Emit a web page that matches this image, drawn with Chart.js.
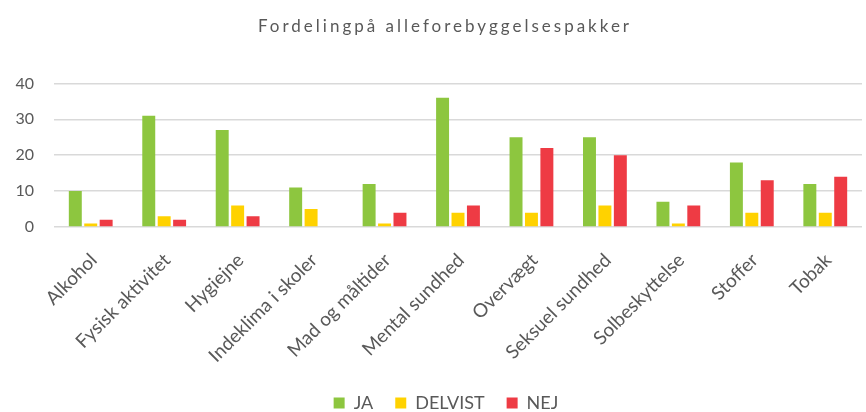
<!DOCTYPE html>
<html>
<head>
<meta charset="utf-8">
<script src="https://cdn.jsdelivr.net/npm/chart.js@4"></script>
<style>
html,body{margin:0;padding:0;background:#fff;}
#wrap{width:866px;height:412px;}
</style>
</head>
<body>
<div id="wrap"><canvas id="myChart" width="866" height="412"></canvas></div>
<script>
var categories=['Alkohol','Fysisk aktivitet','Hygiejne','Indeklima i skoler','Mad og måltider','Mental sundhed','Overvægt','Seksuel sundhed','Solbeskyttelse','Stoffer','Tobak'];
var jaValues=[10,31,27,11,12,36,25,25,7,18,12];
var delvistValues=[1,3,6,5,1,4,4,6,1,4,4];
var nejValues=[2,2,3,0,4,6,22,20,6,13,14];
var seriesNames=['JA','DELVIST','NEJ'];
var seriesColors=['#8DC63F','#FFD200','#EE3B44'];
var yTicks=[0,10,20,30,40];

var txtcolor='#595959';
var fontname='Lato, "Open Sans", sans-serif';

// title gets wider letter spacing like the original; title and legend sit a bit right
var shiftBlocks={
	id:'shiftBlocks',
	beforeDraw:function(chart){
		var tb=chart.titleBlock;
		if(tb && !tb._wrapped){
			var orig=tb.draw.bind(tb);
			tb.draw=function(){
				var c=chart.ctx;
				c.save();
				c.letterSpacing='3px';
				c.translate(14,0);
				orig();
				c.restore();
			};
			tb._wrapped=true;
		}
		var lg=chart.legend;
		if(lg && !lg._wrapped){
			var origl=lg.draw.bind(lg);
			lg.draw=function(){
				var c=chart.ctx;
				c.save();
				c.translate(15,0);
				origl();
				c.restore();
			};
			lg._wrapped=true;
		}
	}
};

var ctx=document.getElementById('myChart').getContext('2d');
var myChart=new Chart(ctx,{
	type:'bar',
	data:{
		labels:categories,
		datasets:[
			{label:seriesNames[0],data:jaValues,backgroundColor:seriesColors[0]},
			{label:seriesNames[1],data:delvistValues,backgroundColor:seriesColors[1]},
			{label:seriesNames[2],data:nejValues,backgroundColor:seriesColors[2]}
		]
	},
	plugins:[shiftBlocks],
	options:{
		responsive:false,
		animation:false,
		barPercentage:0.84,
		categoryPercentage:0.63,
		layout:{padding:{left:0,right:4,top:0,bottom:-10}},
		plugins:{
			title:{
				display:true,
				text:'Fordelingpå alleforebyggelsespakker',
				color:txtcolor,
				font:{family:fontname,size:17,weight:'normal'},
				padding:{top:16,bottom:47}
			},
			legend:{
				position:'bottom',
				labels:{
					color:txtcolor,
					font:{family:fontname,size:18},
					boxWidth:11,
					boxHeight:11,
					padding:22
				}
			},
			tooltip:{enabled:false}
		},
		scales:{
			x:{
				grid:{display:false},
				border:{display:false},
				ticks:{
					color:txtcolor,
					font:{family:fontname,size:19},
					minRotation:45,
					maxRotation:45,
					padding:14,
					labelOffset:3,
					autoSkip:false
				},
				afterFit:function(scale){scale.height=145;}
			},
			y:{
				min:0,
				max:40,
				grid:{color:'#d9d9d9',lineWidth:1.5,drawTicks:false},
				border:{display:false},
				ticks:{
					stepSize:5,
					color:txtcolor,
					font:{family:fontname,size:16},
					padding:20,
					callback:function(v){return yTicks.indexOf(v)>=0?v:'';}
				},
				afterFit:function(scale){scale.width=54;}
			}
		}
	}
});
</script>
</body>
</html>
